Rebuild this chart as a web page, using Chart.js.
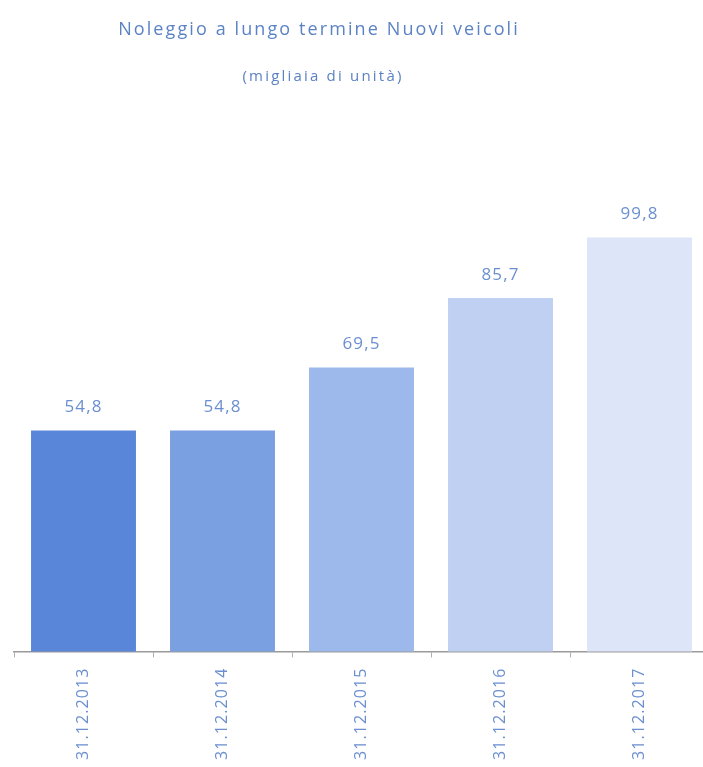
<!DOCTYPE html>
<html>
<head>
<meta charset="utf-8">
<script src="https://cdn.jsdelivr.net/npm/chart.js@4"></script>
<style>
  html, body { margin: 0; padding: 0; background: #fff; overflow: hidden; }
  #wrap { position: relative; width: 709px; height: 770px; }
  .titolo { position: absolute; transform: translateX(-50%); white-space: nowrap;
            font-family: "Open Sans", sans-serif; color: #5b82c4; }
  #t1 { left: 319px; top: 16px; font-size: 18px; letter-spacing: 2.1px; }
  #t2 { left: 323px; top: 65px; font-size: 15px; letter-spacing: 2.2px; }
</style>
</head>
<body>
<div id="wrap">
  <div class="titolo" id="t1">Noleggio a lungo termine Nuovi veicoli</div>
  <div class="titolo" id="t2">(migliaia di unità)</div>
  <canvas id="noleggioChart" width="709" height="770"></canvas>
</div>
<script>
// date di riferimento e valori (migliaia di unità)
const date = ['31.12.2013', '31.12.2014', '31.12.2015', '31.12.2016', '31.12.2017'];
const veicoli = [54.8, 54.8, 69.5, 85.7, 99.8];
const colori = ['#5a86d9', '#7ba0e1', '#9db8ea', '#bfd0f2', '#dde6f8'];

const fontBase = '"Open Sans", sans-serif';

// testo un po' spaziato su tutto il canvas (etichette delle date)
const spaziatura = {
    id: 'spaziatura',
    beforeLayout(chart) { chart.ctx.letterSpacing = '1.1px'; },
    beforeDraw(chart) { chart.ctx.letterSpacing = '1.1px'; }
};

// etichette dei valori sopra le barre, con la virgola decimale
const etichetteValori = {
    id: 'etichetteValori',
    afterDatasetsDraw(chart) {
        const ctx = chart.ctx;
        const meta = chart.getDatasetMeta(0);
        ctx.save();
        ctx.letterSpacing = '1.1px';
        ctx.font = '17px ' + fontBase;
        ctx.fillStyle = '#6b8fcf';
        ctx.textAlign = 'center';
        ctx.textBaseline = 'middle';
        meta.data.forEach(function(bar, i) {
            const testo = veicoli[i].toFixed(1).replace('.', ',');
            ctx.fillText(testo, bar.x, bar.y - 23);
        });
        ctx.restore();
    }
};

const ctx = document.getElementById('noleggioChart').getContext('2d');
new Chart(ctx, {
    type: 'bar',
    data: {
        labels: date,
        datasets: [{
            data: veicoli,
            backgroundColor: colori,
            borderWidth: 0,
            barPercentage: 0.755,
            categoryPercentage: 1
        }]
    },
    options: {
        responsive: false,
        animation: false,
        layout: { padding: { top: 151, left: 14, right: 0, bottom: 0 } },
        plugins: {
            legend: { display: false },
            tooltip: { enabled: false }
        },
        scales: {
            x: {
                grid: { drawOnChartArea: false, drawTicks: true, tickLength: 6, color: '#b0b0b0' },
                border: { display: true, color: '#9a9a9a', width: 1.5 },
                ticks: {
                    minRotation: 90,
                    maxRotation: 90,
                    padding: 10,
                    color: '#6b8fcf',
                    font: { size: 16, family: fontBase }
                }
            },
            y: {
                display: false,
                min: 3.3,
                max: 120
            }
        }
    },
    plugins: [spaziatura, etichetteValori]
});
</script>
</body>
</html>
